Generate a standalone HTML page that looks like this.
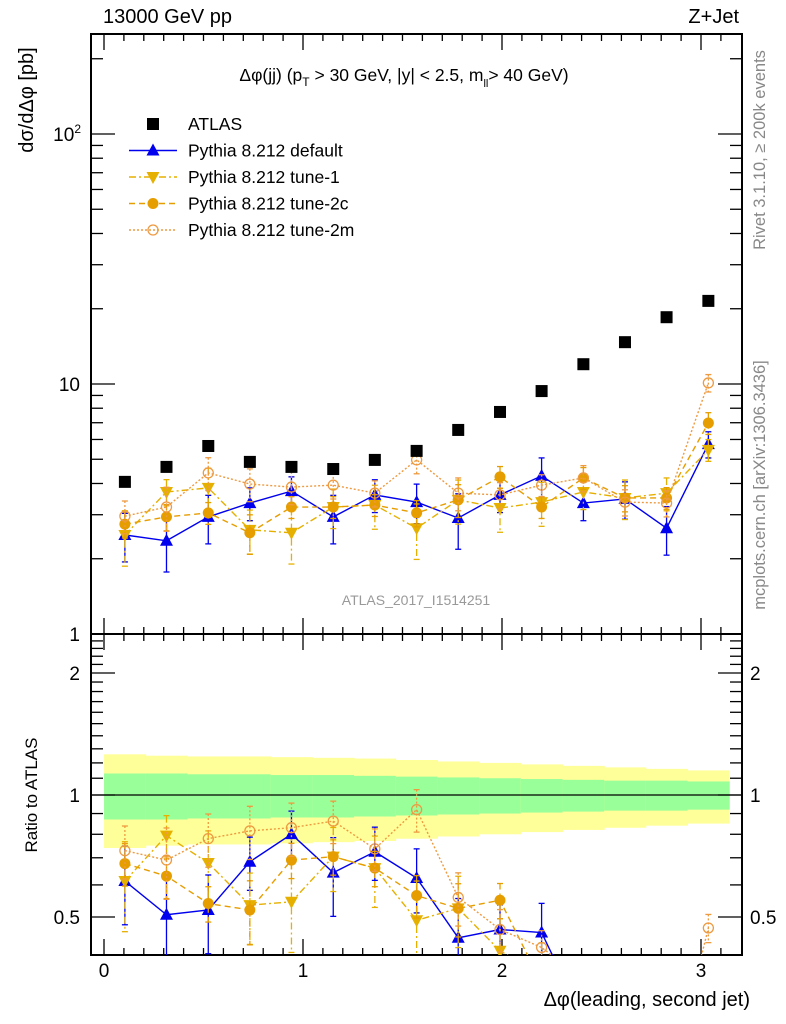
<!DOCTYPE html>
<html><head><meta charset="utf-8"><style>
html,body{margin:0;padding:0;background:#fff;overflow:hidden;width:786px;height:1024px}
svg{display:block;font-family:"Liberation Sans",Arial,sans-serif}
</style></head><body>
<svg id="c" width="786" height="1024" viewBox="0 0 786 1024" xmlns="http://www.w3.org/2000/svg">
<defs>
<clipPath id="clipMain"><rect x="91" y="34" width="651" height="600"/></clipPath>
<clipPath id="clipRatio"><rect x="91" y="634" width="651" height="321"/></clipPath>
</defs>
<g id="bands" clip-path="url(#clipRatio)"></g>
<g id="frames"></g>
<g id="mainMarks" clip-path="url(#clipMain)"></g>
<g id="ratioMarks" clip-path="url(#clipRatio)"></g>
<g id="texts">
<text x="103" y="23" font-size="20">13000 GeV pp</text>
<text x="739" y="23" font-size="20" text-anchor="end">Z+Jet</text>
<text x="404" y="81" font-size="17.5" text-anchor="middle">Δφ(jj) (p<tspan font-size="12" dy="5">T</tspan><tspan dy="-5"> &gt; 30 GeV, |y| &lt; 2.5, m</tspan><tspan font-size="11" dy="6">ll</tspan><tspan dy="-6">&gt; 40 GeV)</tspan></text>
<text transform="translate(33,100) rotate(-90)" font-size="20" text-anchor="middle">dσ/dΔφ [pb]</text>
<text transform="translate(37,795) rotate(-90)" font-size="17" text-anchor="middle">Ratio to ATLAS</text>
<text transform="translate(765,150) rotate(-90)" font-size="16.5" fill="#888" text-anchor="middle">Rivet 3.1.10, ≥ 200k events</text>
<text transform="translate(765,485) rotate(-90)" font-size="16.5" fill="#888" text-anchor="middle">mcplots.cern.ch [arXiv:1306.3436]</text>
<text x="416" y="605" font-size="14" fill="#999" text-anchor="middle">ATLAS_2017_I1514251</text>
<text x="750" y="1006" font-size="20" text-anchor="end">Δφ(leading, second jet)</text>
</g>
<g id="legend"></g>
</svg>
<script>
const categories = [0.105,0.314,0.524,0.733,0.942,1.152,1.361,1.571,1.780,1.990,2.199,2.409,2.618,2.827,3.037];
const atlasValues = [4.06,4.66,5.65,4.88,4.66,4.57,4.97,5.40,6.55,7.73,9.37,12.0,14.7,18.5,21.5];
const statErr = [0.13,0.13,0.125,0.125,0.12,0.12,0.115,0.11,0.105,0.1,0.095,0.09,0.085,0.085,0.08];
const totalErr = [0.26,0.25,0.245,0.245,0.24,0.235,0.23,0.22,0.21,0.2,0.19,0.18,0.17,0.16,0.15];
const defaultValues = [2.49,2.36,2.94,3.34,3.73,2.94,3.60,3.37,2.91,3.60,4.29,3.34,3.47,2.65,5.75];
const defaultErr = [0.22,0.25,0.22,0.15,0.14,0.22,0.15,0.18,0.25,0.15,0.18,0.15,0.17,0.22,0.12];
const tune1Values = [2.49,3.70,3.84,2.61,2.54,3.22,3.28,2.65,3.44,3.19,3.37,3.70,3.50,3.66,5.45];
const tune1Err = [0.25,0.12,0.2,0.2,0.25,0.18,0.2,0.25,0.2,0.2,0.2,0.15,0.18,0.15,0.1];
const tune2cValues = [2.75,2.94,3.05,2.54,3.22,3.22,3.28,3.05,3.44,4.25,3.22,4.21,3.50,3.50,6.98];
const tune2cErr = [0.12,0.12,0.1,0.18,0.1,0.1,0.1,0.12,0.15,0.1,0.1,0.1,0.12,0.1,0.1];
const tune2mValues = [2.96,3.22,4.41,3.98,3.87,3.94,3.66,4.97,3.66,3.60,3.94,4.21,3.37,3.34,10.1];
const tune2mErr = [0.15,0.2,0.15,0.15,0.15,0.12,0.12,0.12,0.15,0.12,0.1,0.12,0.12,0.12,0.08];
const xTickLabels = ["0","1","2","3"];
const ratioTickLabels = ["0.5","1","2"];

const NS="http://www.w3.org/2000/svg";
const L=91,R=742,T=34,MB=634,RB=955;
const binW=Math.PI/15;
function X(v){return 104+199*v;}
function Y(v){return 634-250*Math.log10(v);}
function YR(r){return 795-122*Math.log2(r);}
function mk(tag,attrs,parent){const e=document.createElementNS(NS,tag);for(const k in attrs)e.setAttribute(k,attrs[k]);parent.appendChild(e);return e;}

const bands=document.getElementById('bands');
categories.forEach((c,i)=>{
  const x0=X(c-binW/2),x1=X(c+binW/2);
  const y=mk('rect',{x:x0,y:YR(1+totalErr[i]),width:x1-x0+0.5,height:YR(1-totalErr[i])-YR(1+totalErr[i]),fill:'#ffff99'},bands);
  
  
  const g=mk('rect',{x:x0,y:YR(1+statErr[i]),width:x1-x0+0.5,height:YR(1-statErr[i])-YR(1+statErr[i]),fill:'#99ff99'},bands);
  
  
});

const fr=document.getElementById('frames');
function line(x1,y1,x2,y2,p,w){return mk('line',{x1,y1,x2,y2,stroke:'#000','stroke-width':w||1.3},p);}
mk('rect',{x:L,y:T,width:R-L,height:MB-T,fill:'none',stroke:'#000','stroke-width':2},fr);
mk('rect',{x:L,y:MB,width:R-L,height:RB-MB,fill:'none',stroke:'#000','stroke-width':2},fr);
line(L,795,R,795,fr,1.2);
for(let k=0;k<=31;k++){
  const v=k/10,x=X(v),maj=(k%10===0),len=maj?16:7;
  [[T,1],[MB,-1],[MB,1],[RB,-1]].forEach(([y0,d])=>line(x,y0,x,y0+d*len,fr));
}
xTickLabels.forEach((t,i)=>{
  const e=mk('text',{x:X(i),y:977,'font-size':19,'text-anchor':'middle'},fr);e.textContent=t;
  
  
});
for(let d=0;d<3;d++){for(let m=1;m<10;m++){
  const v=m*Math.pow(10,d),y=Y(v);if(y<T)continue;
  const len=(m===1)?24:12;
  line(L,y,L+len,y,fr);line(R,y,R-len,y,fr);
}}
[["1",634],["10",384]].forEach(([t,y])=>{const e=mk('text',{x:80,y:y+7,'font-size':19,'text-anchor':'end'},fr);e.textContent=t;
  
  });
{const e=mk('text',{x:81,y:141,'font-size':19,'text-anchor':'end'},fr);e.innerHTML='10<tspan font-size="12" dy="-8">2</tspan>';
  
  }
for(let k=5;k<=25;k++){
  const r=k/10,y=YR(r);if(y<MB||y>RB)continue;
  const maj=(k===5||k===10||k===20),len=maj?24:12;
  line(L,y,L+len,y,fr);line(R,y,R-len,y,fr);
}
[0.5,1,2].forEach((r,i)=>{
  const t=ratioTickLabels[i];
  const a=mk('text',{x:80,y:YR(r)+7,'font-size':19,'text-anchor':'end'},fr);a.textContent=t;
  
  
  const b=mk('text',{x:750,y:YR(r)+7,'font-size':19},fr);b.textContent=t;
  
  
});

const series=[
 {name:'pythia-default',vals:defaultValues,err:defaultErr,col:'#0000ee',dash:'',marker:'tri'},
 {name:'pythia-tune-1',vals:tune1Values,err:tune1Err,col:'#e6b000',dash:'7,3,2,3',marker:'tridown'},
 {name:'pythia-tune-2c',vals:tune2cValues,err:tune2cErr,col:'#e69d00',dash:'6,4',marker:'circle'},
 {name:'pythia-tune-2m',vals:tune2mValues,err:tune2mErr,col:'#ee9a40',dash:'2,2',marker:'open'}
];
function marker(type,x,y,col,p){
  let e;
  if(type==='tri')e=mk('polygon',{points:`${x},${y-7} ${x-6.5},${y+5} ${x+6.5},${y+5}`,fill:col},p);
  else if(type==='tridown')e=mk('polygon',{points:`${x},${y+7} ${x-6.5},${y-5} ${x+6.5},${y-5}`,fill:col},p);
  else if(type==='circle')e=mk('circle',{cx:x,cy:y,r:5.5,fill:col},p);
  else if(type==='open')e=mk('circle',{cx:x,cy:y,r:5,fill:'none',stroke:col,'stroke-width':1.3},p);
  else e=mk('rect',{x:x-6,y:y-6,width:12,height:12,fill:col},p);
  return e;
}
const mainG=document.getElementById('mainMarks'),ratG=document.getElementById('ratioMarks');
series.forEach(s=>{
  [[mainG,(i)=>s.vals[i]],[ratG,(i)=>s.vals[i]/atlasValues[i]]].forEach(([p,val],pi)=>{
    const fy=pi===0?Y:YR;
    const g=mk('g',{},p);
    
    
    const pts=categories.map((c,i)=>X(c)+','+fy(val(i))).join(' ');
    const pl=mk('polyline',{points:pts,fill:'none',stroke:s.col,'stroke-width':1.4,'stroke-dasharray':s.dash},g);
    
    
    categories.forEach((c,i)=>{
      const v=val(i),x=X(c),y1=fy(v*(1+s.err[i])),y2=fy(v*(1-s.err[i]));
      mk('line',{x1:x,y1:y1,x2:x,y2:y2,stroke:s.col,'stroke-width':1.3,'stroke-dasharray':s.dash},g);
      mk('line',{x1:x-3,y1:y1,x2:x+3,y2:y1,stroke:s.col,'stroke-width':1.3},g);
      mk('line',{x1:x-3,y1:y2,x2:x+3,y2:y2,stroke:s.col,'stroke-width':1.3},g);
      const m=marker(s.marker,x,fy(v),s.col,g);
      
      
    });
  });
});
categories.forEach((c,i)=>{
  const m=marker('square',X(c),Y(atlasValues[i]),'#000',mainG);
  
  
});

const lg=document.getElementById('legend');
const legItems=[['ATLAS','#000','','square',false],['Pythia 8.212 default','#0000ee','','tri',true],['Pythia 8.212 tune-1','#e6b000','7,3,2,3','tridown',true],['Pythia 8.212 tune-2c','#e69d00','6,4','circle',true],['Pythia 8.212 tune-2m','#ee9a40','2,2','open',true]];
legItems.forEach((it,i)=>{
  const y=124+i*26.5;
  const g=mk('g',{},lg);
  
  
  if(it[4])mk('line',{x1:129,y1:y,x2:177,y2:y,stroke:it[1],'stroke-width':1.4,'stroke-dasharray':it[2]},g);
  marker(it[3],153,y,it[1],g);
  const t=mk('text',{x:188,y:y+6,'font-size':17.5},g);t.textContent=it[0];
});
</script>
</body></html>
